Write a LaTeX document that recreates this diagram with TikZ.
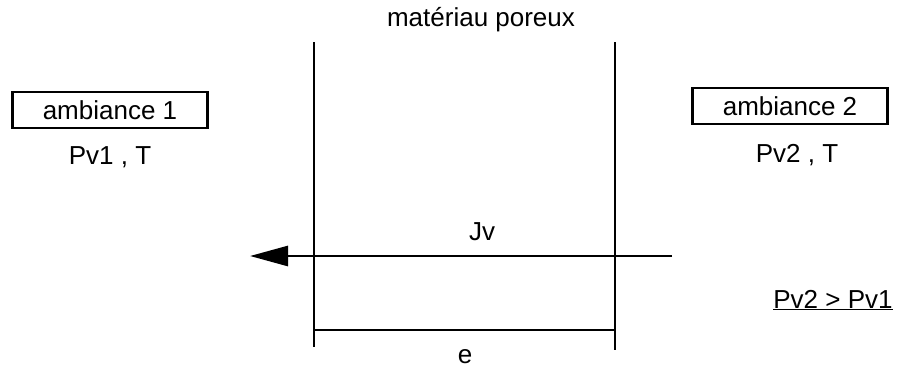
\documentclass[tikz,border=0pt]{standalone}
\usepackage{fontspec}
\setmainfont{Liberation Sans}
\usetikzlibrary{arrows.meta}
\begin{document}
\begin{tikzpicture}[x=1pt,y=-1pt,
  lbl/.style={font=\fontsize{26}{30}\selectfont, inner sep=0pt},
  ambox/.style={lbl, draw, line width=2.4pt, minimum width=195pt, minimum height=36pt},
  wall/.style={line width=2.6pt},
  flux/.style={line width=2.8pt, -{Triangle[length=38pt,width=20pt]}}]
\useasboundingbox (0,0) rectangle (901,368);
\node[lbl] (mat) at (481,20) {matériau poreux};
\coordinate (w1t) at (314,42); \coordinate (w1b) at (314,347);
\coordinate (w2t) at (615,42); \coordinate (w2b) at (615,350);
\draw[wall] (w1t) -- (w1b);
\draw[wall] (w2t) -- (w2b);
\node[ambox] (a1) at (110,110) {ambiance 1};
\node[lbl] (p1) at (110,157) {Pv1 , T};
\node[ambox] (a2) at (790,106) {ambiance 2};
\node[lbl] (p2) at (797,155) {Pv2 , T};
\coordinate (js) at (672,256); \coordinate (je) at (250,256);
\draw[flux] (js) -- (je);
\node[lbl] (jv) at (482,232) {Jv};
\coordinate (e1) at (314,330); \coordinate (e2) at (615,330);
\draw[wall] (e1) -- (e2);
\node[lbl] (e) at (465,357) {e};
\node[lbl] (cmp) at (833,300) {\underline{Pv2 > Pv1}};
\end{tikzpicture}
\end{document}
